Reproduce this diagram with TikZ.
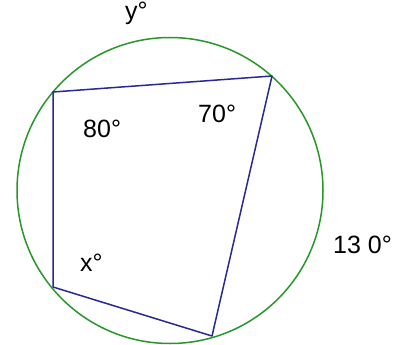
\documentclass[tikz,border=0pt]{standalone}
\usepackage{fontspec}
\setmainfont{Liberation Sans}
\usepackage{tikz}
\usetikzlibrary{calc}

\definecolor{circgreen}{RGB}{40,150,40}
\definecolor{chordblue}{RGB}{40,40,150}

\begin{document}
\begin{tikzpicture}[x=1pt, y=-1pt,
  angle label/.style={anchor=base west, inner sep=0pt,
    font=\fontsize{25}{30}\selectfont}]

% Frame
\useasboundingbox (0,0) rectangle (404,345);

% Parameters
\def\R{153}              % circle radius

% Centre
\coordinate (O) at (170,190.5);

% Corners of the quadrilateral
\coordinate (A) at (53,92);
\coordinate (B) at (272,76);
\coordinate (C) at (212,336);
\coordinate (D) at (53,287);

% Circle
\draw[circgreen, line width=1.5pt] (O) circle (\R);

% Quadrilateral
\draw[chordblue, line width=1.5pt, line join=round]
  (A) -- (B) -- (C) -- (D) -- cycle;

% Angle labels
\node[angle label] (lab80) at (83,137) {80°};
\node[angle label] (lab70) at (198,122) {70°};
\node[angle label] (labx) at (80,271) {x°};

% Arc labels
\node[angle label] (laby) at (125,20) {y°};
\node[angle label] (lab130) at (333,253) {13 0°};

\end{tikzpicture}
\end{document}
